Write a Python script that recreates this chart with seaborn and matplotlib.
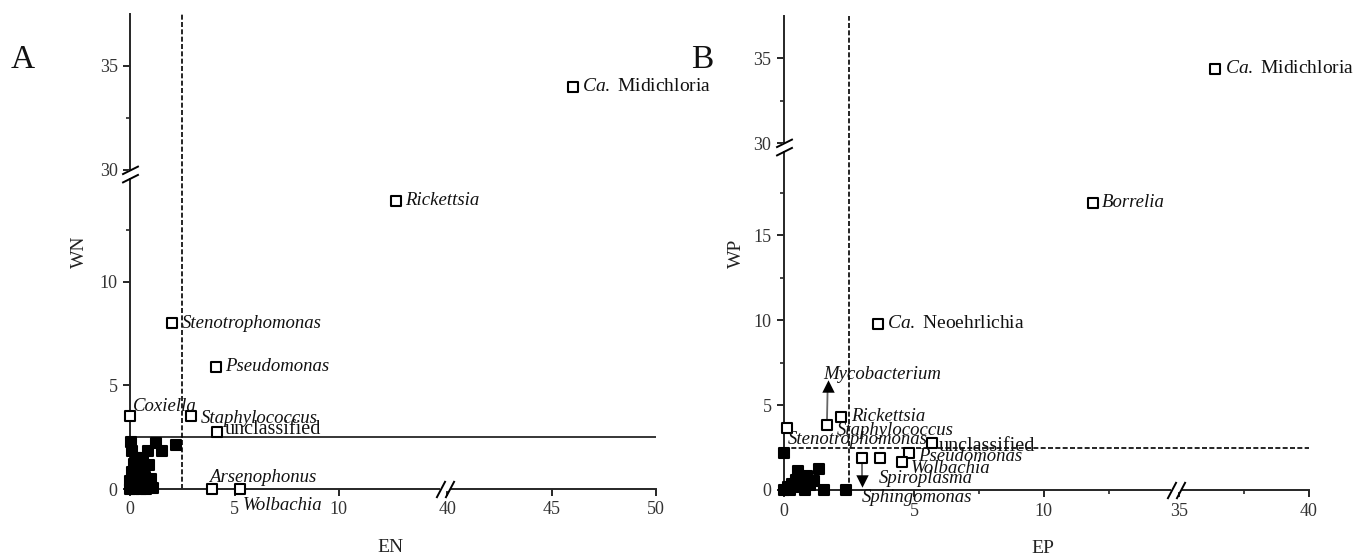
import numpy as np
import seaborn as sns
import matplotlib.pyplot as plt
from matplotlib.path import Path
from matplotlib.ticker import FixedLocator, NullFormatter

# panel A: EN vs WN
A_names = ['Ca. Midichloria', 'Rickettsia', 'Stenotrophomonas', 'Pseudomonas', 'Coxiella',
           'Staphylococcus', 'unclassified', 'Arsenophonus', 'Wolbachia']
A_en = [46.0, 12.75, 2.0, 4.1, 0.0, 2.9, 4.15, 3.9, 5.25]
A_wn = [34.0, 13.9, 8.0, 5.9, 3.5, 3.5, 2.75, 0.0, 0.0]
A_bg_en = [0.05, 1.25, 0.85, 1.5, 2.2, 0.1, 0.3, 0.6, 0.2, 0.5, 0.9, 0.1, 0.4, 0.7, 1.0,
           0.0, 0.3, 0.6, 0.9, 1.1, 0.0, 0.2, 0.5, 0.75]
A_bg_wn = [2.25, 2.2, 1.85, 1.85, 2.1, 1.85, 1.5, 1.5, 1.2, 1.1, 1.15, 0.8, 0.75, 0.6, 0.5,
           0.4, 0.3, 0.2, 0.1, 0.05, 0.0, 0.0, 0.0, 0.0]

# panel B: EP vs WP
B_names = ['Ca. Midichloria', 'Borrelia', 'Ca. Neoehrlichia', 'Rickettsia', 'Staphylococcus',
           'Stenotrophomonas', 'unclassified', 'Pseudomonas', 'Wolbachia', 'Spiroplasma',
           'Sphingomonas']
B_ep = [36.4, 11.9, 3.6, 2.2, 1.65, 0.12, 5.7, 4.8, 4.55, 3.0, 3.7]
B_wp = [34.4, 16.9, 9.8, 4.3, 3.8, 3.65, 2.75, 2.2, 1.65, 1.9, 1.9]
B_bg_ep = [0.0, 0.0, 0.15, 0.3, 0.45, 0.55, 0.6, 0.75, 0.9, 1.0, 1.15, 1.35, 1.55, 2.4, 0.25, 0.8]
B_bg_wp = [2.2, 0.0, 0.15, 0.35, 0.6, 1.1, 0.2, 0.45, 0.8, 0.3, 0.55, 1.25, 0.0, 0.0, 0.0, 0.0]
# shifted taxa (arrows)
myco_ep = [1.65, 1.68]
myco_wp = [3.8, 6.1]
spiro_ep = [3.0, 3.0]
spiro_wp = [1.9, 0.55]

threshold = 2.5

# label offsets in points
A_off = [(7, 0), (6.5, 0), (7, 0), (7, 0), (2, 7), (7, -1.5), (5.5, 1.5), (-2, 8.5), (2, -12)]
B_off = [(7, 0), (6.5, 0), (7, 0), (7, 0), (7, -4), (0.5, -8.5), (4.5, -2), (6.5, -3),
         (6, -4.5), (12, -15), (-13, -29)]


def broken(lo, hi, gap):
    span = hi - lo

    def fwd(v):
        v = np.asarray(v, dtype=float)
        return np.where(v <= lo, v, np.where(v >= hi, v - span + gap, lo + (v - lo) * gap / span))

    def inv(t):
        t = np.asarray(t, dtype=float)
        return np.where(t <= lo, t, np.where(t >= lo + gap, t + span - gap, lo + (t - lo) * span / gap))
    return fwd, inv


sns.set_style('ticks')
plt.rcParams['font.family'] = ['Liberation Serif', 'DejaVu Serif']
plt.rcParams['mathtext.fontset'] = 'custom'
plt.rcParams['mathtext.rm'] = 'Liberation Serif'
plt.rcParams['mathtext.it'] = 'Liberation Serif:italic'

fig = plt.figure(figsize=(13.64, 5.57), dpi=100)
axA = fig.add_axes([125 / 1364, 68 / 557, 531 / 1364, 475 / 557])
axB = fig.add_axes([777.5 / 1364, 67 / 557, 531.5 / 1364, 474 / 557])

ybrk = Path([(-8, -8), (8, 0), (-8, 0), (8, 8)], [Path.MOVETO, Path.LINETO, Path.MOVETO, Path.LINETO])
xbrk = Path([(-9, -8.5), (0, 8.5), (0, -8.5), (9, 8.5)], [Path.MOVETO, Path.LINETO, Path.MOVETO, Path.LINETO])


def setup(ax, xb, yb, xlim, ylim, xmaj, xmin, ymaj, ymin, xlabel, ylabel, xlc, ylc):
    ax.set_xscale('function', functions=broken(*xb))
    ax.set_yscale('function', functions=broken(*yb))
    ax.set_xlim(*xlim)
    ax.set_ylim(*ylim)
    ax.xaxis.set_major_locator(FixedLocator(xmaj))
    ax.xaxis.set_minor_locator(FixedLocator(xmin))
    ax.yaxis.set_major_locator(FixedLocator(ymaj))
    ax.yaxis.set_minor_locator(FixedLocator(ymin))
    ax.set_xticklabels([str(v) for v in xmaj])
    ax.set_yticklabels([str(v) for v in ymaj])
    ax.xaxis.set_minor_formatter(NullFormatter())
    ax.yaxis.set_minor_formatter(NullFormatter())
    for s in ['top', 'right']:
        ax.spines[s].set_visible(False)
    ax.spines['left'].set_position(('data', 0))
    for s in ['left', 'bottom']:
        ax.spines[s].set_linewidth(1.4)
    ax.tick_params(which='major', length=5, width=1.4, labelsize=13, labelcolor='#333333', pad=4)
    ax.tick_params(which='minor', length=3, width=1.2)
    ax.set_xlabel(xlabel, fontsize=14, color='#222222')
    ax.set_ylabel(ylabel, fontsize=14, color='#222222')
    ax.xaxis.label.set_va('center')
    ax.yaxis.label.set_va('center')
    ax.xaxis.set_label_coords(0.5, xlc)
    ax.yaxis.set_label_coords(ylc, 0.5)
    # axis break marks
    ymid = (yb[0] + yb[1]) / 2
    xmid = (xb[0] + xb[1]) / 2
    ax.plot([0], [ymid], marker='|', color='white', markersize=6, mew=3, clip_on=False, zorder=6)
    ax.plot([0], [ymid], marker=ybrk, color='black', mfc='none', markersize=12, mew=1.4,
            clip_on=False, zorder=7)
    ax.plot([xmid], [0], marker='_', color='white', markersize=6.5, mew=3, clip_on=False, zorder=6)
    ax.plot([xmid], [0], marker=xbrk, color='black', mfc='none', markersize=13, mew=1.4,
            clip_on=False, zorder=7)


def label(ax, names, xs, ys, offs):
    for n, x, y, o in zip(names, xs, ys, offs):
        if n.startswith('Ca. '):
            txt, style, fs = r'$\mathit{Ca.}$ ' + n[4:], 'normal', 14
        elif n == 'unclassified':
            txt, style, fs = n, 'normal', 14.5
        else:
            txt, style, fs = n, 'italic', 13.5
        ax.annotate(txt, (x, y), xytext=o, textcoords='offset points', ha='left', va='center',
                    fontsize=fs, fontstyle=style, color='#111111', annotation_clip=False, zorder=8)


# ---- panel A
setup(axA, (15, 40, 0.2), (15, 30, 0.4), (-0.25, 50), (0, 37.5),
      [0, 5, 10, 40, 45, 50], [], [0, 5, 10, 30, 35], [12.5, 32.5], 'EN', 'WN', -0.124, -0.085)
axA.plot([0, 50], [threshold, threshold], color='black', lw=1.1, zorder=1)
axA.plot([threshold, threshold], [0, 37.5], color='black', lw=1.2, ls=(0, (3, 1.4)), zorder=1)
sns.scatterplot(x=A_bg_en, y=A_bg_wn, ax=axA, marker='s', color='black', edgecolor='black',
                s=55, linewidth=1.5, clip_on=False, zorder=4)
sns.scatterplot(x=A_en, y=A_wn, ax=axA, marker='s', color='white', edgecolor='black',
                s=55, linewidth=1.5, clip_on=False, zorder=5)
label(axA, A_names, A_en, A_wn, A_off)

# ---- panel B
setup(axB, (15, 35, 0.2), (20, 30, 0.4), (-0.25, 40), (0, 37.5),
      [0, 5, 10, 35, 40], [2.5, 7.5, 12.5, 37.5], [0, 5, 10, 15, 30, 35],
      [2.5, 7.5, 12.5, 17.5, 32.5], 'EP', 'WP', -0.124, -0.078)
axB.plot([0, 40], [threshold, threshold], color='black', lw=1.2, ls=(0, (3, 1.4)), zorder=1)
axB.plot([threshold, threshold], [0, 37.5], color='black', lw=1.2, ls=(0, (3, 1.4)), zorder=1)
axB.plot(myco_ep, myco_wp, color='#666666', lw=1.3, zorder=3)
axB.plot(spiro_ep, spiro_wp, color='#666666', lw=1.3, zorder=3)
sns.scatterplot(x=myco_ep[1:], y=myco_wp[1:], ax=axB, marker='^', color='black', s=80,
                linewidth=0, clip_on=False, zorder=5)
sns.scatterplot(x=spiro_ep[1:], y=spiro_wp[1:], ax=axB, marker='v', color='black', s=80,
                linewidth=0, clip_on=False, zorder=5)
sns.scatterplot(x=B_bg_ep, y=B_bg_wp, ax=axB, marker='s', color='black', edgecolor='black',
                s=55, linewidth=1.5, clip_on=False, zorder=4)
sns.scatterplot(x=B_ep, y=B_wp, ax=axB, marker='s', color='white', edgecolor='black',
                s=55, linewidth=1.5, clip_on=False, zorder=5)
label(axB, B_names, B_ep, B_wp, B_off)
axB.annotate('Mycobacterium', (myco_ep[1], myco_wp[1]), xytext=(-3, 8.5), textcoords='offset points',
             ha='left', va='center', fontsize=13.5, fontstyle='italic', color='#111111',
             annotation_clip=False, zorder=8)

fig.text(23 / 1364, 1 - 60 / 557, 'A', fontsize=24, ha='center', va='center', color='#111111')
fig.text(702 / 1364, 1 - 60 / 557, 'B', fontsize=24, ha='center', va='center', color='#111111')

fig.savefig('out.png', dpi=100)
